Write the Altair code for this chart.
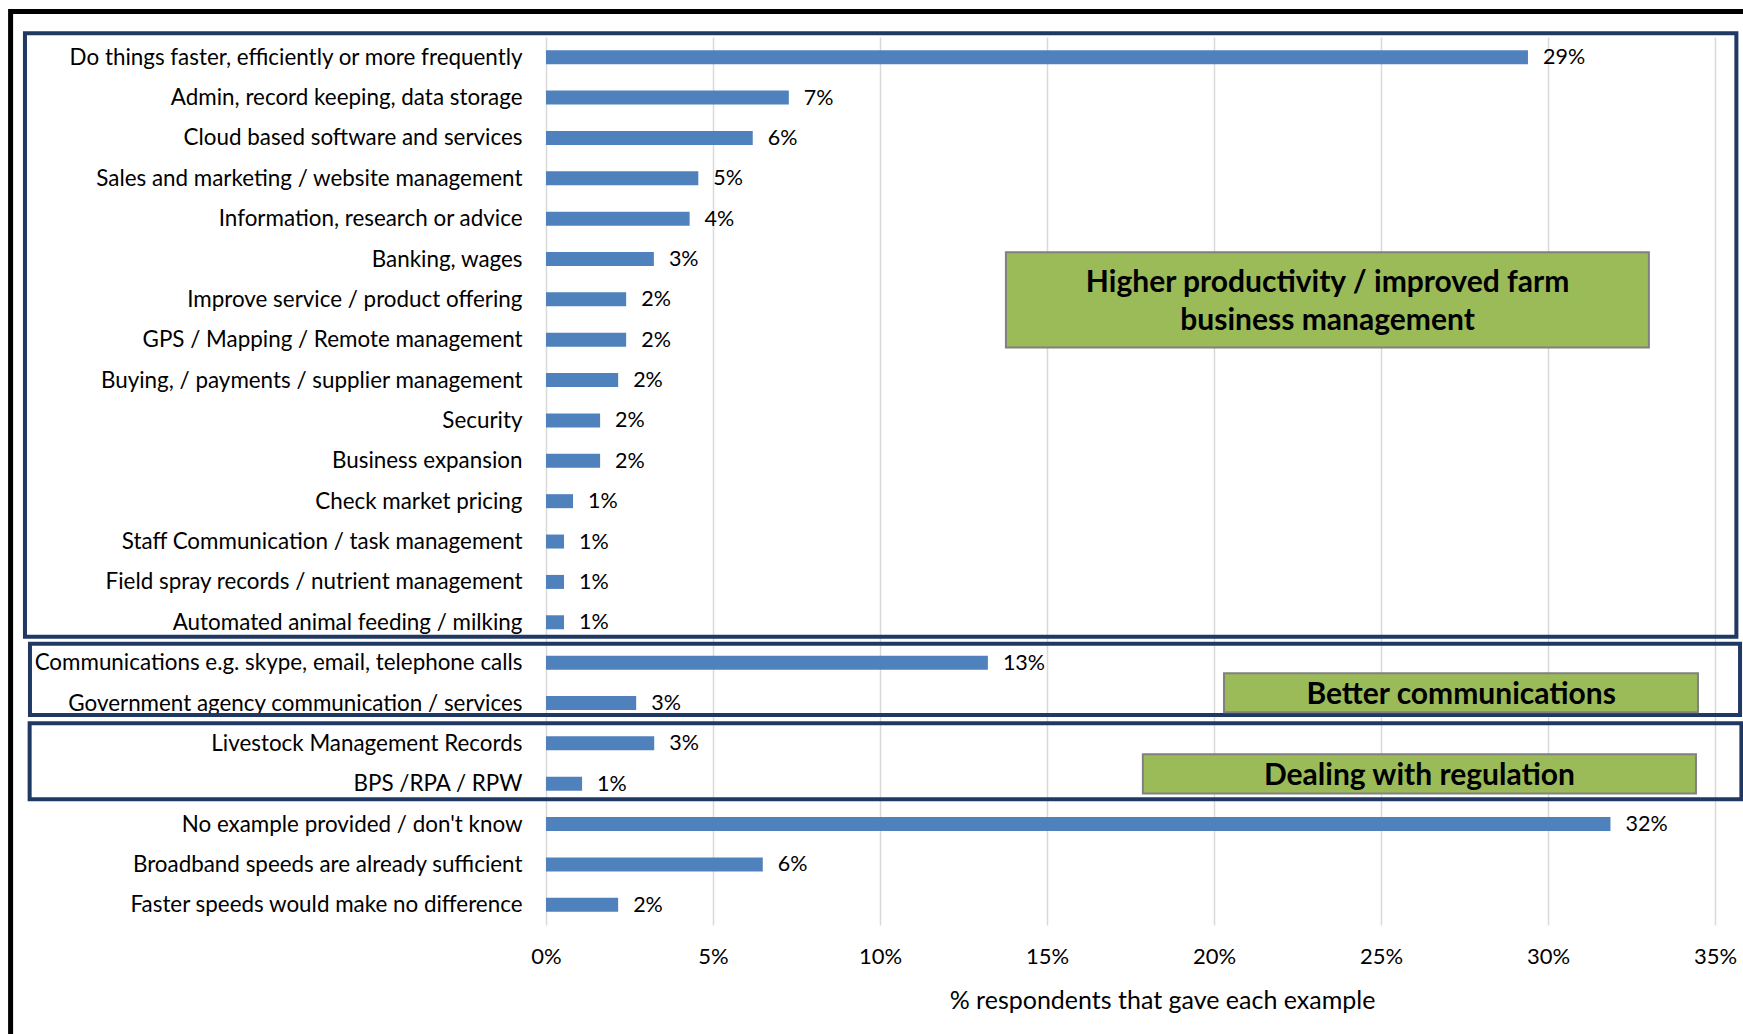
import json
import altair as alt
import pandas as pd

# ---------------- data ----------------
categories = [
    "Do things faster, efficiently or more frequently",
    "Admin, record keeping, data storage",
    "Cloud based software and services",
    "Sales and marketing / website management",
    "Information, research or advice",
    "Banking, wages",
    "Improve service / product offering",
    "GPS / Mapping / Remote management",
    "Buying, / payments / supplier management",
    "Security",
    "Business expansion",
    "Check market pricing",
    "Staff Communication / task management",
    "Field spray records / nutrient management",
    "Automated animal feeding / milking",
    "Communications e.g. skype, email, telephone calls",
    "Government agency communication / services",
    "Livestock Management Records",
    "BPS /RPA / RPW",
    "No example provided / don't know",
    "Broadband speeds are already sufficient",
    "Faster speeds would make no difference",
]
values = [0.294, 0.0727, 0.0619, 0.0456, 0.043, 0.0323, 0.024, 0.024, 0.0216,
          0.0162, 0.0162, 0.0081, 0.0054, 0.0054, 0.0054,
          0.1323, 0.027,
          0.0324, 0.0108,
          0.3187, 0.0649, 0.0216]
x_ticks = [0, 0.05, 0.10, 0.15, 0.20, 0.25, 0.30, 0.35]
x_title = "% respondents that gave each example"

# group boxes (in data units: x = share, y = row index)
group_x1 = [-0.1560, -0.1545, -0.1546]
group_x2 = [0.3564, 0.3575, 0.3579]
group_y1 = [-0.594, 14.53, 16.50]
group_y2 = [14.36, 16.30, 18.385]

# green annotation boxes
note_text = ["Higher productivity / improved farm\nbusiness management",
             "Better communications",
             "Dealing with regulation"]
note_x1 = [0.1377, 0.2030, 0.1787]
note_x2 = [0.3302, 0.3449, 0.3443]
note_y1 = [4.83, 15.26, 17.27]
note_y2 = [7.19, 16.23, 18.24]
note_tx = [0.2340, 0.2740, 0.2615]
note_ty = [5.60, 15.80, 17.80]

# outer frame
frame_x1, frame_x2 = [-0.1603], [0.40]
frame_y1, frame_y2 = [-1.13], [30.0]

FONT = "Lato"

df = pd.DataFrame({"category": categories, "value": values,
                   "idx": list(range(len(categories)))})
groups = pd.DataFrame({"x1": group_x1, "x2": group_x2, "y1": group_y1, "y2": group_y2})
notes = pd.DataFrame({"text": note_text, "x1": note_x1, "x2": note_x2,
                      "y1": note_y1, "y2": note_y2, "tx": note_tx, "ty": note_ty})
frame = pd.DataFrame({"x1": frame_x1, "x2": frame_x2, "y1": frame_y1, "y2": frame_y2})

x_scale = alt.Scale(domain=[0, 0.35], nice=False, zero=True, padding=0)
y_scale = alt.Scale(domain=[-0.5, 21.5], reverse=True, nice=False, zero=False, padding=0)

x_axis = alt.Axis(values=x_ticks, format=".0%", grid=True, gridColor="#D9D9D9",
                  gridWidth=1.5, ticks=False, domain=False, labelFlush=False,
                  labelFont=FONT, labelFontSize=22, labelColor="#000000",
                  labelPadding=21, title=x_title, titleFont=FONT,
                  titleFontSize=25, titleFontWeight="normal", titleColor="#000000",
                  titleX=616, titleY=75, titleAlign="center", titleBaseline="middle")
y_axis = alt.Axis(values=list(range(len(categories))),
                  labelExpr=json.dumps(categories) + "[datum.value]",
                  ticks=False, domain=False, grid=False, labelFlush=False,
                  labelOverlap=False, labelLimit=0, labelFont=FONT, labelFontSize=22.4,
                  labelColor="#000000", labelPadding=24, title=None)


def X(f):
    return alt.X(f, type="quantitative", scale=x_scale, axis=x_axis)


def Y(f):
    return alt.Y(f, type="quantitative", scale=y_scale, axis=y_axis)


bars = alt.Chart(df).mark_bar(orient="horizontal", size=14, color="#4F81BD").encode(
    x=X("value"), y=Y("idx"))

labels = alt.Chart(df).mark_text(align="left", baseline="middle", dx=15, dy=1,
                                 font=FONT, fontSize=21.5, color="#000000").encode(
    x=X("value"), y=Y("idx"), text=alt.Text("value:Q", format=".0%"))

group_boxes = alt.Chart(groups).mark_rect(fillOpacity=0, stroke="#1F3864",
                                          strokeWidth=4).encode(
    x=X("x1"), x2="x2", y=Y("y1"), y2="y2")

note_boxes = alt.Chart(notes).mark_rect(fill="#9BBB59", stroke="#808080",
                                        strokeWidth=2).encode(
    x=X("x1"), x2="x2", y=Y("y1"), y2="y2")

note_labels = alt.Chart(notes).mark_text(align="center", baseline="middle",
                                         font=FONT, fontSize=30, fontWeight="bold",
                                         lineBreak="\n", lineHeight=38,
                                         color="#000000").encode(
    x=X("tx"), y=Y("ty"), text="text:N")

frame_box = alt.Chart(frame).mark_rect(fillOpacity=0, stroke="#000000",
                                       strokeWidth=5).encode(
    x=X("x1"), x2="x2", y=Y("y1"), y2="y2")

chart = alt.layer(bars, labels, group_boxes, note_boxes, note_labels, frame_box).properties(
    width=1169, height=888,
    autosize=alt.AutoSizeParams(type="none"),
    padding={"left": 546, "top": 37, "right": 28, "bottom": 109},
    background="white",
).configure_view(stroke=None)

chart.save("out.html", embed_options={"renderer": "svg", "actions": False})
